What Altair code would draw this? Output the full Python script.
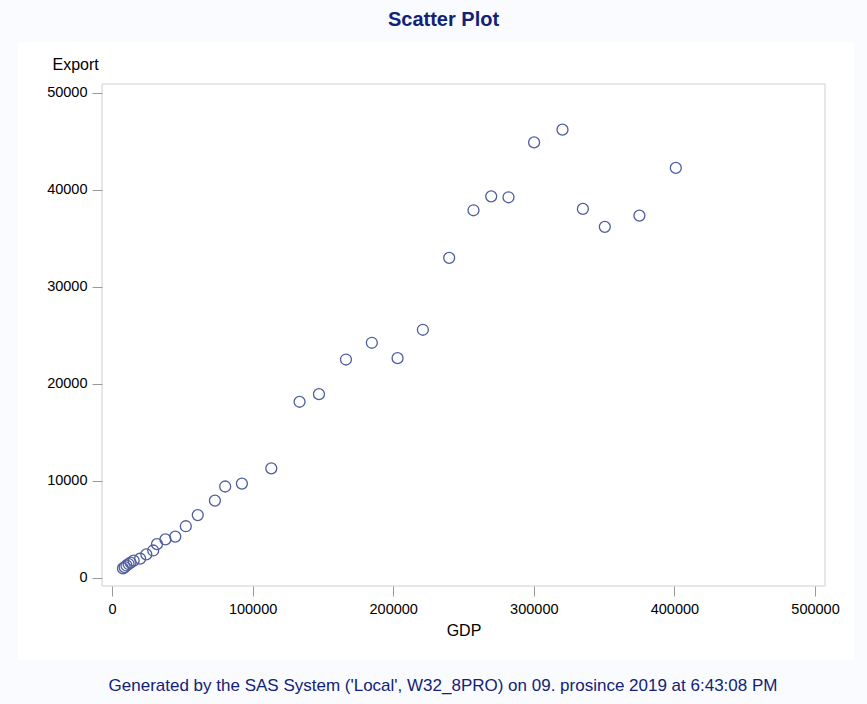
import altair as alt
import pandas as pd

gdp = [7800, 9000, 10300, 11800, 13200, 15400, 20000, 24400, 29300, 32000,
       38000, 45000, 52500, 61000, 73200, 80500, 92400, 113300, 133400, 147200,
       166400, 184800, 203100, 221100, 239800, 257100, 269700, 282000, 300200,
       320400, 334900, 350500, 375100, 401000]
export = [950, 1080, 1250, 1400, 1550, 1750, 1950, 2400, 2800, 3450,
          3950, 4230, 5300, 6450, 7950, 9400, 9700, 11270, 18140, 18930,
          22500, 24230, 22640, 25570, 32990, 37900, 39340, 39240, 44900,
          46220, 38040, 36190, 37350, 42270]
x_ticks = [0, 100000, 200000, 300000, 400000, 500000]
y_ticks = [0, 10000, 20000, 30000, 40000, 50000]
title_text = "Scatter Plot"
footer_text = "Generated by the SAS System ('Local', W32_8PRO) on 09. prosince 2019 at 6:43:08 PM"

df = pd.DataFrame({"GDP": gdp, "Export": export})
one = pd.DataFrame({"k": [0]})

W, H = 723, 502
FONT = "Liberation Sans"

panel = alt.Chart(one).mark_rect(fill="white", clip=False).encode(
    x=alt.value(-84), x2=alt.value(752), y=alt.value(-42), y2=alt.value(576)
)
frame = alt.Chart(one).mark_rect(fillOpacity=0, stroke="#d0d0d0", strokeWidth=1).encode(
    x=alt.value(0), x2=alt.value(W), y=alt.value(0), y2=alt.value(H)
)

points = alt.Chart(df).mark_point(
    shape="circle", filled=False, size=120, color="#4f5e9c", strokeWidth=1.3, opacity=1
).encode(
    x=alt.X("GDP:Q",
            scale=alt.Scale(domain=[-7110, 507100], nice=False, zero=False),
            axis=alt.Axis(values=x_ticks, format="d", title="GDP", grid=False, domain=False,
                          tickColor="#9a9a9a", tickSize=10, labelPadding=6,
                          labelFont=FONT, labelFontSize=14.5, labelColor="#000000",
                          titleFont=FONT, titleFontSize=16, titleFontWeight="normal",
                          titleColor="#000000", titlePadding=7, zindex=1)),
    y=alt.Y("Export:Q",
            scale=alt.Scale(domain=[-866, 50928], nice=False, zero=False),
            axis=alt.Axis(values=y_ticks, format="d", title="Export", grid=False, domain=False,
                          tickColor="#9a9a9a", tickSize=10, labelPadding=5,
                          labelFont=FONT, labelFontSize=14.5, labelColor="#000000",
                          titleFont=FONT, titleFontSize=16, titleFontWeight="normal",
                          titleColor="#000000", titleAngle=0, titleAlign="left",
                          titleBaseline="alphabetic", titleX=-50, titleY=-15, zindex=1)),
)

footer = alt.Chart(one).mark_text(
    text=footer_text, font=FONT, fontSize=17, color="#112277", align="center", baseline="middle"
).encode(x=alt.value(341), y=alt.value(602))

chart = alt.layer(panel, frame, points, footer).properties(
    width=W, height=H,
    title=alt.TitleParams(text=title_text, font=FONT, fontSize=20, fontWeight="bold",
                          color="#112277", anchor="middle", frame="group", dx=-20,
                          offset=16, dy=20, baseline="alphabetic"),
    padding={"left": 102, "top": 84, "right": 42, "bottom": 118},
    autosize=alt.AutoSizeParams(type="none"),
).configure(background="#fafbfe").configure_view(strokeOpacity=0)

chart.save("out.html", embed_options={"renderer": "svg", "actions": False})
